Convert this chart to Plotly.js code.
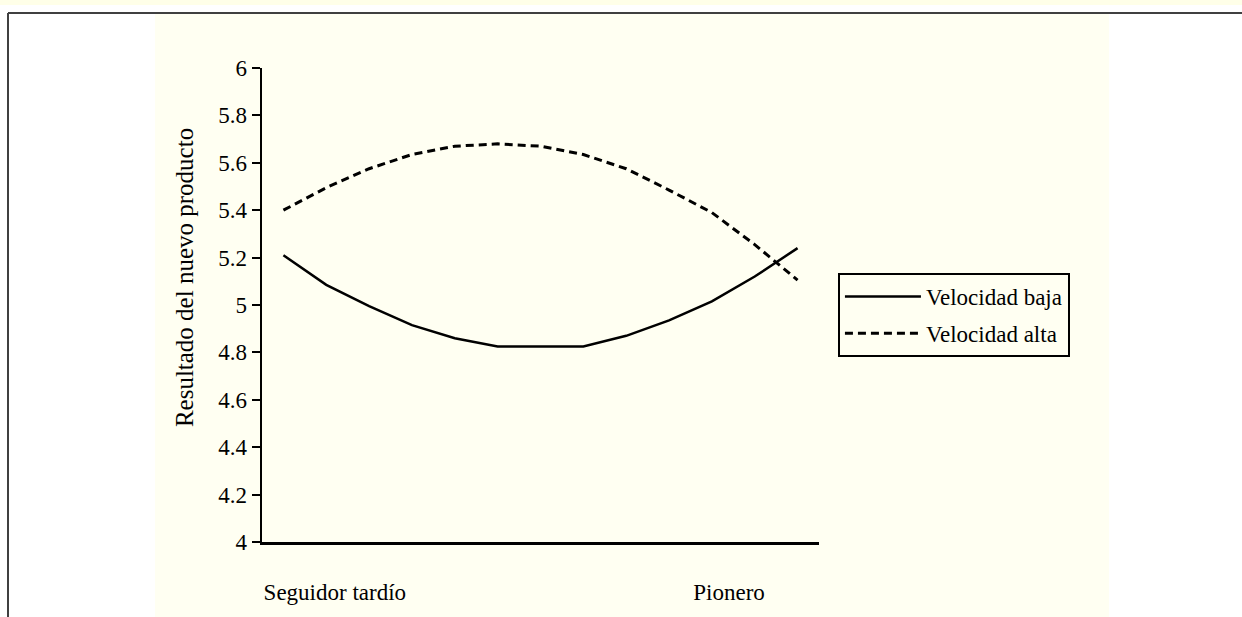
<!DOCTYPE html>
<html>
<head>
<meta charset="utf-8">
<script src="https://cdn.plot.ly/plotly-3.0.1.min.js"></script>
<style>
  body { margin: 0; padding: 0; background: #ffffff; }
  #chart { width: 1242px; height: 617px; }
</style>
</head>
<body>
<div id="chart"></div>
<script>
// Data (13 points per line)
const pointIndex = [0, 1, 2, 3, 4, 5, 6, 7, 8, 9, 10, 11, 12];
const velocidadBaja = [5.21, 5.085, 4.995, 4.915, 4.86, 4.825, 4.825, 4.825, 4.87, 4.935, 5.015, 5.12, 5.24];
const velocidadAlta = [5.40, 5.495, 5.575, 5.635, 5.67, 5.68, 5.67, 5.635, 5.575, 5.485, 5.39, 5.255, 5.105];
const seriesNames = ["Velocidad baja", "Velocidad alta"];

// Axis labels
const xTickPos = [1.2, 10.4];
const xTickText = ["Seguidor tardío", "Pionero"];
const yTickVals = [4, 4.2, 4.4, 4.6, 4.8, 5, 5.2, 5.4, 5.6, 5.8, 6];
const yTickText = ["4", "4.2", "4.4", "4.6", "4.8", "5", "5.2", "5.4", "5.6", "5.8", "6"];
const yTitle = "Resultado del nuevo producto";

const serif = "Liberation Serif";
const cream = "#fffff2";

//Traces
var bajaTrace = {
    x: pointIndex,
    y: velocidadBaja,
    type: 'scatter',
    mode: 'lines',
    name: seriesNames[0],
    legendgroup: 'a',
    line: { color: '#000000', width: 2.5 }
};

var altaTrace = {
    x: pointIndex,
    y: velocidadAlta,
    type: 'scatter',
    mode: 'lines',
    name: seriesNames[1],
    legendgroup: 'b',
    line: { color: '#000000', width: 3, dash: '8px,5px' }
};

// Plot area in pixels: x 262..819, y 68..542
var layout = {
    width: 1242,
    height: 617,
    margin: { l: 262, r: 423, t: 68, b: 75 },
    paper_bgcolor: '#ffffff',
    plot_bgcolor: 'rgba(0,0,0,0)',
    font: { family: serif, size: 23, color: '#000000' },
    showlegend: true,
    xaxis: {
        range: [-0.5, 12.5],
        tickvals: xTickPos,
        ticktext: xTickText,
        ticks: '',
        showgrid: false,
        zeroline: false,
        showline: true,
        linecolor: '#000000',
        linewidth: 2.5,
        ticklabelstandoff: 28,
        tickfont: { family: serif, size: 23, color: '#000000' },
        fixedrange: true
    },
    yaxis: {
        range: [4, 6],
        tickvals: yTickVals,
        ticktext: yTickText,
        ticks: 'outside',
        ticklen: 8,
        tickwidth: 2,
        tickcolor: '#000000',
        showgrid: false,
        zeroline: false,
        showline: true,
        linecolor: '#000000',
        linewidth: 2.5,
        tickfont: { family: serif, size: 23, color: '#000000' },
        fixedrange: true
    },
    legend: {
        x: 1.034,
        y: 0.5675,
        xanchor: 'left',
        yanchor: 'top',
        bgcolor: 'rgba(0,0,0,0)',
        bordercolor: '#000000',
        borderwidth: 2,
        itemwidth: 76,
        tracegroupgap: 4,
        font: { family: serif, size: 23, color: '#000000' }
    },
    annotations: [
        {
            text: yTitle,
            xref: 'paper', yref: 'paper',
            x: -0.138, y: 0.557,
            xanchor: 'center', yanchor: 'middle',
            textangle: -90,
            showarrow: false,
            font: { family: serif, size: 25, color: '#000000' }
        }
    ],
    shapes: [
        // top band
        { type: 'rect', xref: 'paper', yref: 'paper', layer: 'below',
          x0: -262 / 557, x1: 980 / 557, y0: 1 + 63 / 474, y1: 1 + 68 / 474,
          fillcolor: '#ffffe8', line: { width: 0 } },
        // cream panel
        { type: 'rect', xref: 'paper', yref: 'paper', layer: 'below',
          x0: (155 - 262) / 557, x1: (1109 - 262) / 557, y0: -75 / 474, y1: 1 + 54 / 474,
          fillcolor: cream, line: { width: 0 } },
        // frame top
        { type: 'line', xref: 'paper', yref: 'paper', layer: 'above',
          x0: (8 - 262) / 557, x1: 980 / 557, y0: 1 + 55 / 474, y1: 1 + 55 / 474,
          line: { color: '#404040', width: 2 } },
        // frame left
        { type: 'line', xref: 'paper', yref: 'paper', layer: 'above',
          x0: (8 - 262) / 557, x1: (8 - 262) / 557, y0: -75 / 474, y1: 1 + 55 / 474,
          line: { color: '#404040', width: 2 } }
    ]
};

Plotly.newPlot('chart', [bajaTrace, altaTrace], layout, { staticPlot: true, displayModeBar: false });
</script>
</body>
</html>
